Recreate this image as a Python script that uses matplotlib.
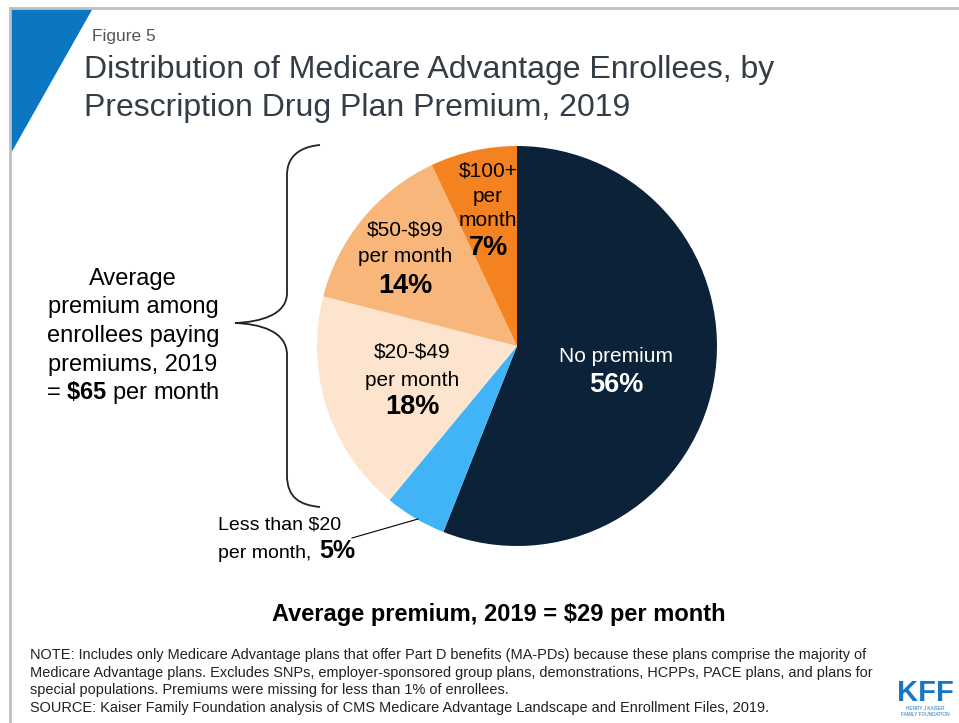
import matplotlib.pyplot as plt
from matplotlib.patches import Polygon, PathPatch
from matplotlib.path import Path

plt.rcParams['font.family'] = ['Liberation Sans', 'DejaVu Sans']
plt.rcParams['mathtext.fontset'] = 'custom'
plt.rcParams['mathtext.rm'] = 'Liberation Sans'
plt.rcParams['mathtext.bf'] = 'Liberation Sans:bold'

# enrollee shares, clockwise from 12 o'clock
categories = ["No premium", "Less than \\$20", "\\$20-\\$49", "\\$50-\\$99", "\\$100+"]
shares = [56, 5, 18, 14, 7]
colors = ["#0b2239", "#41b4f7", "#fde4cf", "#f8b67a", "#f58220"]

avg_paying = 65
avg_all = 29

W, H = 959, 723
fig = plt.figure(figsize=(W / 100, H / 100), dpi=100)

# pie
cx, cy, r = 517, 346, 200
pax = fig.add_axes([(cx - r) / W, (H - cy - r) / H, 2 * r / W, 2 * r / H])
pax.pie(shares, colors=colors, startangle=90, counterclock=False,
        wedgeprops=dict(linewidth=0))
pax.set_xlim(-1, 1)
pax.set_ylim(-1, 1)
pax.set_aspect("auto")
pax.axis("off")

# overlay in pixel coords for text and decorations
ov = fig.add_axes([0, 0, 1, 1], zorder=5)
ov.set_xlim(0, W)
ov.set_ylim(H, 0)
ov.axis("off")
ov.patch.set_alpha(0)

# slide frame + corner triangle
ov.plot([10, W], [8, 8], color="#c0c0c0", lw=2)
ov.plot([10, 10], [8, H], color="#c0c0c0", lw=2)
ov.add_patch(Polygon([[10, 8], [93, 8], [10, 155]], closed=True, color="#0b77c2", lw=0))

ov.text(92, 37, "Figure 5", fontsize=12.5, color="#555555", va="center")
ov.text(84, 70, "Distribution of Medicare Advantage Enrollees, by", fontsize=23, color="#333d47", va="center")
ov.text(84, 108, "Prescription Drug Plan Premium, 2019", fontsize=23, color="#333d47", va="center")

fs, fb = 15, 19.5

# wedge labels
ov.text(616, 357, categories[0], fontsize=fs, color="white", ha="center", va="center")
ov.text(616, 385, f"{shares[0]}%", fontsize=fb, color="white", weight="bold", ha="center", va="center")

ov.text(412, 352, categories[2], fontsize=fs, ha="center", va="center")
ov.text(412, 380, "per month", fontsize=fs, ha="center", va="center")
ov.text(412, 407, f"{shares[2]}%", fontsize=fb, weight="bold", ha="center", va="center")

ov.text(405, 230, categories[3], fontsize=fs, ha="center", va="center")
ov.text(405, 257, "per month", fontsize=fs, ha="center", va="center")
ov.text(405, 286, f"{shares[3]}%", fontsize=fb, weight="bold", ha="center", va="center")

ov.text(488, 171, categories[4], fontsize=fs, ha="center", va="center")
ov.text(488, 196, "per", fontsize=fs, ha="center", va="center")
ov.text(488, 220, "month", fontsize=fs, ha="center", va="center")
ov.text(488, 248, f"{shares[4]}%", fontsize=fb, weight="bold", ha="center", va="center")

ov.text(280, 525, categories[1], fontsize=14, ha="center", va="center")
ov.text(317, 553, "per month, ", fontsize=14, ha="right", va="center")
ov.text(319, 551, f"{shares[1]}%", fontsize=18, weight="bold", ha="left", va="center")
ov.plot([352, 418], [538, 519], color="black", lw=0.8)

# curly brace
verts = [(320, 145), (287, 148), (287, 170), (287, 175),
         (287, 293),
         (287, 315), (260, 322), (235, 323),
         (260, 324), (287, 331), (287, 355),
         (287, 475),
         (287, 498), (300, 505), (320, 507)]
codes = [Path.MOVETO, Path.CURVE4, Path.CURVE4, Path.LINETO,
         Path.LINETO,
         Path.CURVE4, Path.CURVE4, Path.CURVE4,
         Path.CURVE4, Path.CURVE4, Path.CURVE4,
         Path.LINETO,
         Path.CURVE4, Path.CURVE4, Path.CURVE4]
ov.add_patch(PathPatch(Path(verts, codes), fill=False, lw=1.3, edgecolor="#222222"))

side = ["Average", "premium among", "enrollees paying", "premiums, 2019",
        "= $\\mathbf{\\$%d}$ per month" % avg_paying]
for i, line in enumerate(side):
    ov.text(133, 279 + i * 28.5, line, fontsize=17, ha="center", va="center")

ov.text(499, 614, f"Average premium, 2019 = ${avg_all} per month", fontsize=17,
        weight="bold", ha="center", va="center")

notes = [
    "NOTE: Includes only Medicare Advantage plans that offer Part D benefits (MA-PDs) because these plans comprise the majority of",
    "Medicare Advantage plans. Excludes SNPs, employer-sponsored group plans, demonstrations, HCPPs, PACE plans, and plans for",
    "special populations. Premiums were missing for less than 1% of enrollees.",
    "SOURCE: Kaiser Family Foundation analysis of CMS Medicare Advantage Landscape and Enrollment Files, 2019.",
]
for i, line in enumerate(notes):
    ov.text(30, 655 + i * 17.6, line, fontsize=10.45, color="#222222", va="center")

# logo
ov.text(925, 693, "KFF", fontsize=21, weight="black", color="#1577c3", ha="center", va="center")
ov.text(925, 709, "HENRY J KAISER", fontsize=3.4, color="#1577c3", ha="center", va="center")
ov.text(925, 715, "FAMILY FOUNDATION", fontsize=3.4, color="#1577c3", ha="center", va="center")

fig.savefig("out.png", dpi=100)
